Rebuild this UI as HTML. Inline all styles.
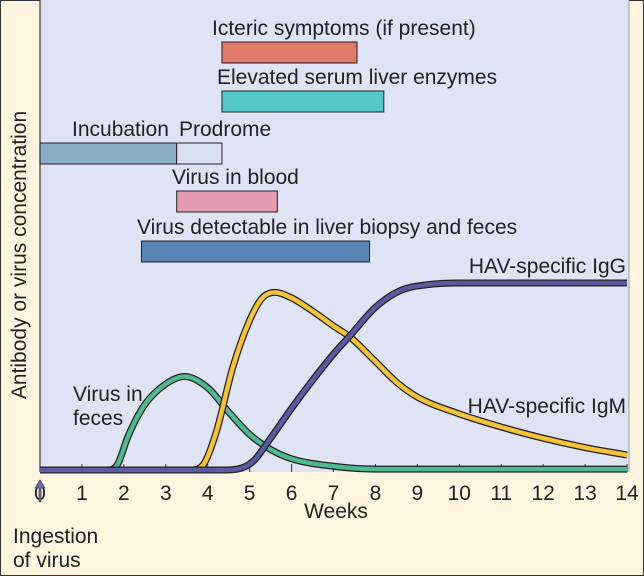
<!DOCTYPE html>
<html><head><meta charset="utf-8"><style>
html,body{margin:0;padding:0;background:#fdf5e0;}
svg{display:block;font-family:"Liberation Sans",sans-serif;}
</style></head><body>
<svg id="chart" width="644" height="576" viewBox="0 0 644 576">
<rect x="0.5" y="0.5" width="643" height="575" fill="#fdf5e0" stroke="#333"/>
<rect x="40" y="0" width="589" height="472" fill="#dfe4f5"/>
<line x1="40" y1="0" x2="40" y2="472" stroke="#333" stroke-width="1.2"/>
<line x1="629" y1="0" x2="629" y2="472" stroke="#888" stroke-width="0.8"/>
<g id="bars"></g>
<g id="ticks"></g>
<g id="curves"></g>
<text transform="translate(26,255) rotate(-90)" text-anchor="middle" font-size="21" fill="#222">Antibody or virus concentration</text>
<text x="336" y="518" text-anchor="middle" font-size="21" fill="#222">Weeks</text>
<path d="M40,480 l-5,8 h4 v14 h2 v-14 h4 z" fill="#6a6aa8" stroke="#333" stroke-width="0.6"/>
<text x="13" y="543" font-size="21" fill="#222">Ingestion</text>
<text x="13" y="567" font-size="21" fill="#222">of virus</text>
<text x="73" y="401" font-size="21" fill="#222">Virus in</text>
<text x="73" y="425" font-size="21" fill="#222">feces</text>
<text x="626" y="273" text-anchor="end" font-size="21" fill="#222">HAV-specific IgG</text>
<text x="626" y="413" text-anchor="end" font-size="21" fill="#222">HAV-specific IgM</text>
</svg>
<script>
const weeks=[0,1,2,3,4,5,6,7,8,9,10,11,12,13,14];
const barLabels=["Icteric symptoms (if present)","Elevated serum liver enzymes","Incubation","Prodrome","Virus in blood","Virus detectable in liver biopsy and feces"];
const barStart=[4.34,4.34,0,3.26,3.26,2.42];
const barEnd=[7.56,8.2,3.26,4.34,5.66,7.86];
const barRow=[0,1,2,2,3,4];
const rowTop=[42,91,143,191,241];
const barColors=["#e07a6a","#55c8c8","#8aacc4","#d8e2ee","#e39ab2","#5a84b4"];
const labelX=[212,217,72,179,172,137];
const iggW=[0,4.4,4.8,5.1,5.5,6,6.5,7,7.4,8,8.6,9.2,10,14];
const iggV=[0,0,1,5,17,33,48,62,72,87,96,99,100,100];
const igmW=[0,3.6,3.9,4.2,4.6,5,5.3,5.6,6,6.5,7,7.4,8,8.5,9,10,11,12,13,14];
const igmV=[0,0,3,20,55,80,92,95,92,85,77,71,58,47,39,30,23,17,12,8];
const fecW=[0,1.6,1.85,2.1,2.5,3,3.45,4,4.5,5,5.5,6,7,8,14];
const fecV=[0,0,3,18,35,46,50,44,31,19,11,6,2,0.5,0.5];
const X=w=>40+w*41.93, Y=v=>470-v*1.87;
const NS="http://www.w3.org/2000/svg";
function mk(t,a,p){const e=document.createElementNS(NS,t);for(const k in a)e.setAttribute(k,a[k]);p.appendChild(e);return e;}
const bars=document.getElementById('bars');
barLabels.forEach((lab,i)=>{
 const r=mk('rect',{x:X(barStart[i]),y:rowTop[barRow[i]],width:X(barEnd[i])-X(barStart[i]),height:21,fill:barColors[i],stroke:'#222','stroke-width':1},bars);
 
 
 const t=mk('text',{x:labelX[i],y:rowTop[barRow[i]]-7,'font-size':21,fill:'#222'},bars);
 t.textContent=lab;
 
 
});
const tk=document.getElementById('ticks');
weeks.forEach(w=>{
 const l=mk('line',{x1:X(w),x2:X(w),y1:464,y2:472,stroke:'#333','stroke-width':1},tk);
 
 
 const t=mk('text',{x:X(w),y:500,'text-anchor':'middle','font-size':21,fill:'#222'},tk);
 t.textContent=w;
 
 
});
function path(ws,vs){
 const p=ws.map((w,i)=>[X(w),Y(vs[i])]);
 const n=p.length, m=[];
 const d0=[];for(let i=0;i<n-1;i++)d0.push((p[i+1][1]-p[i][1])/(p[i+1][0]-p[i][0]));
 for(let i=0;i<n;i++){
  if(i==0)m.push(d0[0]);else if(i==n-1)m.push(d0[n-2]);
  else m.push(d0[i-1]*d0[i]<=0?0:(d0[i-1]+d0[i])/2);
 }
 for(let i=0;i<n-1;i++){
  if(d0[i]==0){m[i]=0;m[i+1]=0;continue;}
  const a=m[i]/d0[i],b=m[i+1]/d0[i],s=a*a+b*b;
  if(s>9){const t=3/Math.sqrt(s);m[i]=t*a*d0[i];m[i+1]=t*b*d0[i];}
 }
 let d='M'+p[0][0]+','+p[0][1];
 for(let i=0;i<n-1;i++){
  const h=(p[i+1][0]-p[i][0])/3;
  d+=` C${p[i][0]+h},${p[i][1]+m[i]*h} ${p[i+1][0]-h},${p[i+1][1]-m[i+1]*h} ${p[i+1][0]},${p[i+1][1]}`;
 }
 return d;
}
const cv=document.getElementById('curves');
[[fecW,fecV,'#52b890','virus-in-feces-curve'],[igmW,igmV,'#f5c23a','igm-curve'],[iggW,iggV,'#5a5aa0','igg-curve']].forEach(s=>{
 const d=path(s[0],s[1]);
 const o=mk('path',{d:d,fill:'none',stroke:'#222','stroke-width':7,'stroke-linejoin':'round'},cv);
 
 
 const c=mk('path',{d:d,fill:'none',stroke:s[2],'stroke-width':4.5,'stroke-linejoin':'round'},cv);
 
 
});
</script>
</body></html>
